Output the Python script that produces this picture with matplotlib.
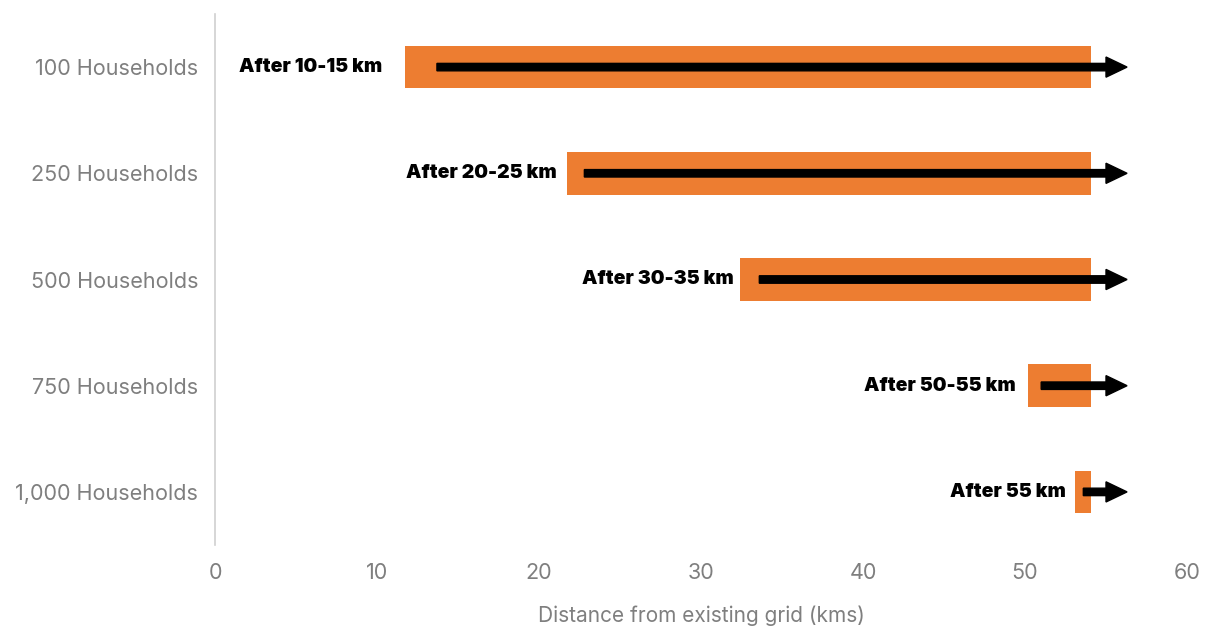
import matplotlib
matplotlib.use("Agg")
import matplotlib.pyplot as plt

categories = ["100 Households", "250 Households", "500 Households", "750 Households", "1,000 Households"]
bar_start = [11.7, 21.7, 32.4, 50.2, 53.1]
bar_end = [54.1, 54.1, 54.1, 54.1, 54.1]
arrow_start = [13.7, 22.8, 33.6, 51.0, 53.6]
arrow_end = [56.3, 56.3, 56.3, 56.3, 56.3]
labels = ["After 10-15 km", "After 20-25 km", "After 30-35 km", "After 50-55 km", "After 55 km"]
label_x = [10.3, 21.1, 32.0, 49.4, 52.5]
xticks = [0, 10, 20, 30, 40, 50, 60]

plt.rcParams['font.family'] = ['Inter', 'DejaVu Sans']

fig = plt.figure(figsize=(12.07, 6.30), dpi=100)
ax = fig.add_axes([215/1207, 1 - 545/630, (1187-215)/1207, (545-14)/630])

ys = list(range(len(categories)))
widths = [e - s for s, e in zip(bar_start, bar_end)]
ax.barh(ys, widths, left=bar_start, height=0.4, color="#ED7D31")

for y, s, e in zip(ys, arrow_start, arrow_end):
    ax.arrow(s, y, e - s, 0, width=0.07, head_width=0.19, head_length=1.3,
             length_includes_head=True, color="black", zorder=3)

for y, lx, t in zip(ys, label_x, labels):
    ax.text(lx, y, t, ha="right", va="center", fontsize=14, fontweight="black", color="black")

ax.set_xlim(0, 60)
ax.set_ylim(4.5, -0.5)
ax.set_yticks(ys)
ax.set_yticklabels(categories)
ax.set_xticks(xticks)
ax.tick_params(axis="both", length=0, colors="#7f7f7f", labelsize=15.5)
ax.tick_params(axis="y", pad=12)
ax.tick_params(axis="x", pad=13)
for sp in ["top", "right", "bottom"]:
    ax.spines[sp].set_visible(False)
ax.spines["left"].set_color("#d0d0d0")
ax.spines["left"].set_linewidth(1.2)
ax.set_xlabel("Distance from existing grid (kms)", fontsize=15, color="#7f7f7f", labelpad=16)

fig.savefig("out.png", dpi=100)
